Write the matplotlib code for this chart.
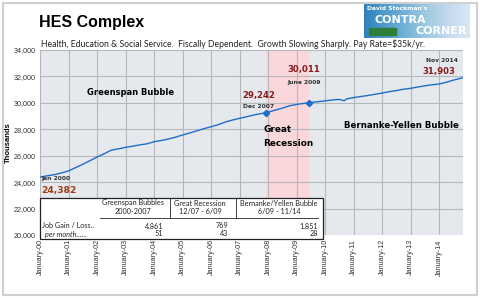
"""HES Complex employment chart (health, education & social services), 2000-2014."""

import numpy as np
import matplotlib.pyplot as plt
from matplotlib.patches import Rectangle
from matplotlib.lines import Line2D

# month index (0 = Jan 2000) and employment level in thousands
months = [0, 3, 6, 9, 12, 15, 18, 21, 24, 27, 30, 33, 36, 39, 42, 45,
          48, 51, 54, 57, 60, 63, 66, 69, 72, 75, 78, 81, 84, 87, 90, 93, 95,
          96, 99, 102, 105, 108, 111, 113, 117, 120, 123, 126, 128, 129,
          132, 135, 138, 141, 144, 147, 150, 153, 156, 159, 162, 165,
          168, 171, 174, 178]
hes_jobs = [24382, 24480, 24560, 24700, 24850, 25100, 25350, 25620,
            25900, 26150, 26420, 26520, 26630, 26720, 26820, 26900,
            27060, 27150, 27260, 27400, 27570, 27720, 27880, 28050,
            28190, 28350, 28550, 28700, 28830, 28950, 29080, 29190, 29242,
            29290, 29450, 29600, 29780, 29880, 29960, 30011, 30090,
            30150, 30220, 30260, 30160, 30300,
            30400, 30480, 30560, 30650, 30740, 30850, 30930, 31030,
            31100, 31200, 31290, 31370, 31430, 31560, 31720, 31903]

year_ticks = list(range(0, 169, 12))
year_labels = [f"January-{y:02d}" for y in range(0, 15)]
y_ticks = list(range(20000, 34001, 2000))

recession_start, recession_end = 95, 113   # Dec 2007, Jun 2009

table_headers = ["Greenspan Bubbles", "Great Recession", "Bernanke/Yellen Bubble"]
table_periods = ["2000-2007", "12/07 - 6/09", "6/09 - 11/14"]
job_gain = ["4,861", "769", "1,851"]
per_month = ["51", "43", "28"]

W, H = 480, 298


def fx(x):
    return x / W


def fy(y):
    return 1 - y / H


fig = plt.figure(figsize=(4.8, 2.98), dpi=100)
fig.patches.append(Rectangle((fx(3), fy(295)), fx(474), 292 / H, transform=fig.transFigure,
                             fill=False, edgecolor='#cfcfcf', linewidth=1.5))

ax = fig.add_axes([fx(40), fy(235), fx(423), 185 / H])
ax.set_facecolor('#e5e9ee')
ax.axvspan(recession_start, recession_end, color='#f9d7da', zorder=0.5, lw=0)
ax.plot(months, hes_jobs, color='#1f6cc8', linewidth=1.0, zorder=3)
idx = [months.index(recession_start), months.index(recession_end)]
ax.plot([months[i] for i in idx], [hes_jobs[i] for i in idx], 'D',
        color='#1f6cc8', markersize=3.2, zorder=4)

ax.set_xlim(0, 178)
ax.set_ylim(20000, 34000)
ax.set_xticks(year_ticks)
ax.set_xticklabels(year_labels, rotation=90, fontsize=5.2, family='Liberation Sans', color='#333333')
ax.set_yticks(y_ticks)
ax.set_yticklabels([f"{v:,}" for v in y_ticks], fontsize=5.2, family='Liberation Sans', color='#333333')
ax.tick_params(length=0, pad=3)
ax.grid(True, color='#b4b8bd', linewidth=0.8)
ax.set_axisbelow(True)
for s in ax.spines.values():
    s.set_visible(False)
ax.set_ylabel("Thousands", fontsize=5.5, fontweight='bold', family='Liberation Sans', labelpad=1)

bold = dict(family='DejaVu Sans', fontweight='bold', va='center')
red = '#8b1a1a'
grey = '#333333'
ax.text(38, 30750, "Greenspan Bubble", ha='center', fontsize=6.0, **bold)
ax.text(152, 28250, "Bernanke-Yellen Bubble", ha='center', fontsize=6.2, **bold)
ax.text(94, 27450, "Great\nRecession", ha='left', fontsize=6.4, linespacing=1.6, **bold)
ax.text(92, 30590, "29,242", ha='center', fontsize=6.1, color=red, **bold)
ax.text(92, 29710, "Dec 2007", ha='center', fontsize=4.3, color=grey, **bold)
ax.text(111, 32490, "30,011", ha='center', fontsize=6.1, color=red, **bold)
ax.text(111, 31525, "June 2009", ha='center', fontsize=4.3, color=grey, **bold)
ax.text(168, 32410, "31,903", ha='center', fontsize=6.1, color=red, **bold)
ax.text(169, 33240, "Nov 2014", ha='center', fontsize=4.3, color=grey, **bold)
ax.text(0.5, 24240, "Jan 2000", ha='left', fontsize=4.3, color=grey, **bold)
ax.text(0.5, 23330, "24,382", ha='left', fontsize=6.6, color='#9c3d10', **bold)

# summary table box
fig.patches.append(Rectangle((fx(40), fy(239)), fx(283), 41 / H, transform=fig.transFigure,
                             facecolor='white', edgecolor='#222222', linewidth=0.9, zorder=5))
tf = dict(family='Lato', fontsize=5.2, color='#222222', zorder=6)
centers = [133, 200, 279]
rights = [163, 228, 318]
for c, h, p in zip(centers, table_headers, table_periods):
    fig.text(fx(c), fy(203), h, ha='center', va='center', **tf)
    fig.text(fx(c), fy(212), p, ha='center', va='center', **tf)
for sx in [170, 236]:
    fig.add_artist(Line2D([fx(sx), fx(sx)], [fy(198), fy(218)], color='#222222', lw=0.6, zorder=6))
fig.add_artist(Line2D([fx(100), fx(318)], [fy(218), fy(218)], color='#222222', lw=0.6, zorder=6))
fig.text(fx(42), fy(226), "Job Gain / Loss..", ha='left', va='center', **tf)
fig.text(fx(45), fy(234), "per month......", ha='left', va='center', style='italic', **tf)
for r, g, m in zip(rights, job_gain, per_month):
    fig.text(fx(r), fy(226), g, ha='right', va='center', **tf)
    fig.text(fx(r), fy(234), m, ha='right', va='center', **tf)

fig.text(fx(39), fy(23), "HES Complex", ha='left', va='center', fontsize=11.5,
         family='Liberation Sans', fontweight='bold')
fig.text(fx(41), fy(44), "Health, Education & Social Service.  Fiscally Dependent.  "
         "Growth Slowing Sharply. Pay Rate=$35k/yr.", ha='left', va='center',
         fontsize=6.2, family='Lato', color='#222222')

# logo block
logo = fig.add_axes([fx(364), fy(38), fx(106), 35 / H])
grad = np.linspace(0, 1, 50).reshape(1, -1)
logo.imshow(np.vstack([grad] * 10), cmap='Blues_r', aspect='auto', vmin=-0.6, vmax=1.3,
            extent=[0, 1, 0, 1])
logo.set_xlim(0, 1)
logo.set_ylim(0, 1)
logo.axis('off')
logo.text(0.03, 0.85, "David Stockman's", color='white', fontsize=4.3, fontweight='bold',
          family='DejaVu Sans', va='center')
logo.text(0.1, 0.52, "CONTRA", color='white', fontsize=8, fontweight='bold',
          family='DejaVu Sans', va='center')
logo.text(0.97, 0.2, "CORNER", color='white', fontsize=8, fontweight='bold',
          family='DejaVu Sans', va='center', ha='right')
logo.add_patch(Rectangle((0.05, 0.1), 0.25, 0.2, color='#2e7d3a'))

fig.savefig("out.png", dpi=100)
